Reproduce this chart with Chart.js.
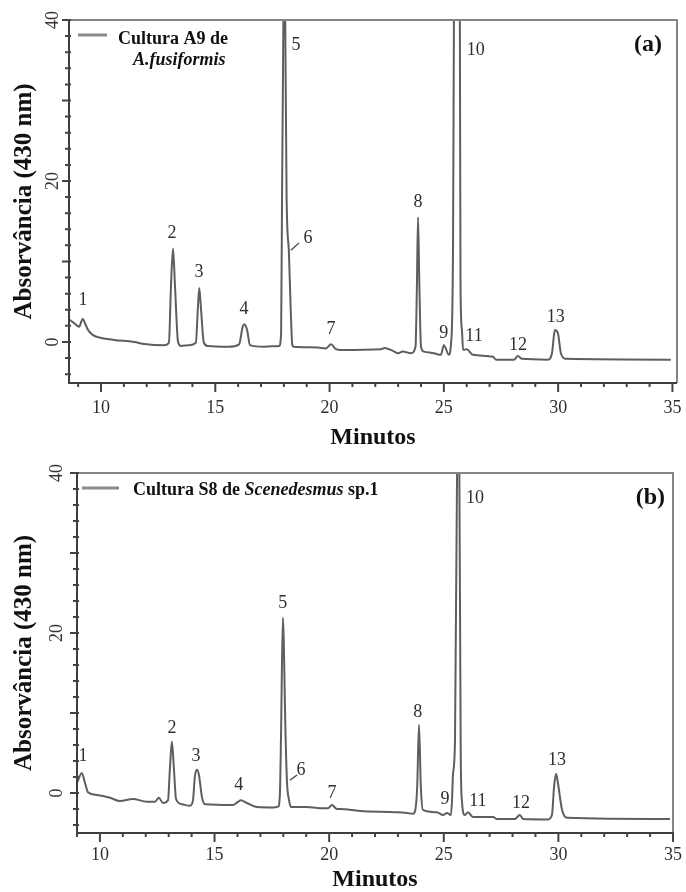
<!DOCTYPE html>
<html>
<head>
<meta charset="utf-8">
<script src="https://cdn.jsdelivr.net/npm/chart.js@4.4.1/dist/chart.umd.min.js"></script>
<style>
  html, body { margin: 0; padding: 0; background: #fff; overflow: hidden; }
  #wrap { position: relative; width: 686px; height: 892px; }
  canvas { position: absolute; left: 0; }
</style>
</head>
<body>
<div id="wrap">
  <canvas id="chartA" width="686" height="456" style="top:0"></canvas>
  <canvas id="chartB" width="686" height="450" style="top:446px"></canvas>
</div>
<script>
// HPLC traces at 430 nm, minutes vs absorbance
const timeA = [8.6, 8.8, 9.04, 9.2, 9.32, 9.43, 9.65, 10.0, 10.57, 11.45, 11.9, 12.76,
  12.97, 13.06, 13.15, 13.24, 13.37, 13.5, 13.85,
  14.15, 14.24, 14.3, 14.37, 14.5, 14.68, 15.56,
  16.04, 16.2, 16.27, 16.39, 16.52, 17.13,
  17.79, 17.88, 17.92, 17.98, 18.02, 18.06, 18.12, 18.22, 18.3, 18.37,
  18.44, 19.49, 19.84, 20.06, 20.28, 20.5, 22.25, 22.4, 22.77, 23.0, 23.2, 23.56,
  23.76, 23.82, 23.87, 23.93, 24.0, 24.13, 24.57, 24.87,
  25.0, 25.22,
  25.31, 25.4, 25.44, 25.57, 25.7, 25.73, 25.79, 25.84, 26.0, 26.27,
  27.15, 27.28, 28.07, 28.24, 28.42, 29.55,
  29.73, 29.82, 29.86, 29.99, 30.12, 30.34, 34.93];
const absA = [2.8, 2.4, 1.9, 2.85, 2.2, 1.5, 0.85, 0.5, 0.25, 0.0, -0.25, -0.4,
  -0.1, 6.8, 11.6, 6.8, 0.0, -0.5, -0.4,
  -0.1, 4.3, 6.7, 4.3, -0.1, -0.5, -0.6,
  -0.3, 1.9, 2.2, 1.5, -0.4, -0.6,
  -0.5, 1.0, 18, 40, 60, 40, 18, 11.2, 4, -0.4,
  -0.6, -0.7, -0.8, -0.3, -0.9, -1.0, -0.9, -0.75, -1.1, -1.4, -1.2, -1.4,
  -0.6, 6.8, 15.5, 6.8, -0.6, -1.2, -1.4, -1.6,
  -0.4, -1.6,
  -0.3, 11.4, 40, 120, 40, 6.8, 1.5, -1.0, -0.9, -1.6,
  -1.85, -2.2, -2.2, -1.75, -2.1, -2.2,
  -1.4, 0.9, 1.5, 1.1, -1.4, -2.1, -2.2];

const timeB = [9.0, 9.21, 9.35, 9.48, 9.87, 10.44, 10.87, 11.44, 12.05, 12.4, 12.57, 12.75,
  12.97, 13.05, 13.14, 13.23, 13.32, 13.58, 13.93,
  14.06, 14.14, 14.23, 14.32, 14.45, 14.58, 15.8,
  16.02, 16.15, 16.41, 16.85, 17.55,
  17.77, 17.85, 17.9, 17.98, 18.1, 18.16, 18.25, 18.33,
  19.03, 19.6, 19.95, 20.12, 20.34, 20.47, 21.34, 22.96, 23.4, 23.66,
  23.76, 23.84, 23.92, 24.0, 24.09, 24.7, 24.97,
  25.14, 25.31,
  25.36, 25.4, 25.49, 25.58, 25.63, 25.68, 25.74, 25.79, 25.92, 26.06, 26.27,
  27.15, 27.32, 28.1, 28.32, 28.46, 29.55,
  29.72, 29.81, 29.9, 29.98, 30.16, 30.38, 34.87];
const absB = [1.25, 2.5, 1.25, 0.1, -0.25, -0.6, -1.0, -0.75, -1.1, -1.1, -0.6, -1.25,
  -0.9, 2.9, 6.4, 2.9, -0.75, -1.4, -1.6,
  -0.9, 2.0, 2.9, 2.25, -0.5, -1.4, -1.5,
  -1.1, -0.9, -1.25, -1.75, -1.8,
  -1.7, -0.25, 7.0, 21.9, 7.0, 1.4, -0.9, -1.75,
  -1.75, -1.9, -1.9, -1.5, -2.0, -2.0, -2.25, -2.4, -2.5, -2.6,
  -2.1, 0.75, 8.5, 0.75, -2.1, -2.4, -2.75,
  -2.5, -2.75,
  -0.9, 2.25, 6.6, 40, 80, 40, 5, -0.9, -2.75, -2.4, -3.0,
  -3.0, -3.25, -3.25, -2.75, -3.25, -3.3,
  -2.75, 0.75, 2.4, 1.25, -2.1, -3.1, -3.25];

// peak numbering and where each number sits (minutes, absorbance)
const peakIds = ['1', '2', '3', '4', '5', '6', '7', '8', '9', '10', '11', '12', '13'];
const labelTimeA = [9.21, 13.11, 14.29, 16.26, 18.53, 19.06, 20.06, 23.87, 25.0, 26.4, 26.32, 28.24, 29.9];
const labelAbsA = [5.2, 13.5, 8.7, 4.0, 36.9, 12.9, 1.6, 17.4, 1.1, 36.3, 0.75, -0.4, 3.1];
const labelTimeB = [9.26, 13.14, 14.19, 16.06, 17.98, 18.77, 20.12, 23.87, 25.05, 26.36, 26.49, 28.37, 29.94];
const labelAbsB = [4.6, 8.1, 4.6, 1.0, 23.75, 2.9, 0.0, 10.1, -0.75, 36.9, -1.0, -1.25, 4.1];

const xTickLabels = [10, 15, 20, 25, 30, 35];
const yTickLabels = [0, 20, 40];

const SERIF = "'Liberation Serif', 'Times New Roman', serif";
const traceColor = '#5e5e5e';

// frame, tick marks, peak numbers, legend and panel tag
function makeDecor(cfg) {
  return {
    id: 'decor',
    afterDatasetsDraw(chart) {
      const ctx = chart.ctx;
      const a = chart.chartArea;
      const xs = chart.scales.x;
      const ys = chart.scales.y;
      ctx.save();

      ctx.lineWidth = 2;
      ctx.strokeStyle = '#858585';
      ctx.beginPath();
      ctx.moveTo(a.left, a.top);
      ctx.lineTo(a.right, a.top);
      ctx.lineTo(a.right, a.bottom);
      ctx.stroke();
      ctx.strokeStyle = '#3e3e3e';
      ctx.beginPath();
      ctx.moveTo(a.left, a.top);
      ctx.lineTo(a.left, a.bottom);
      ctx.lineTo(a.right, a.bottom);
      ctx.stroke();

      ctx.strokeStyle = '#444';
      ctx.beginPath();
      xs.ticks.forEach(t => {
        const px = xs.getPixelForValue(t.value);
        const len = t.value % 5 === 0 ? 9 : 4;
        ctx.moveTo(px, a.bottom - 1);
        ctx.lineTo(px, a.bottom + len);
      });
      ys.ticks.forEach(t => {
        const py = ys.getPixelForValue(t.value);
        const len = t.value % 10 === 0 ? 7 : 4;
        ctx.moveTo(a.left - len, py);
        ctx.lineTo(a.left + 2, py);
      });
      ctx.stroke();

      // leader to the shoulder peak 6
      ctx.strokeStyle = '#555';
      ctx.lineWidth = 1.5;
      ctx.beginPath();
      ctx.moveTo(xs.getPixelForValue(cfg.leader[0]), ys.getPixelForValue(cfg.leader[1]));
      ctx.lineTo(xs.getPixelForValue(cfg.leader[2]), ys.getPixelForValue(cfg.leader[3]));
      ctx.stroke();

      ctx.fillStyle = '#2e2e2e';
      ctx.font = '18px ' + SERIF;
      ctx.textAlign = 'center';
      ctx.textBaseline = 'middle';
      peakIds.forEach((id, i) => {
        ctx.fillText(id, xs.getPixelForValue(cfg.labelTimes[i]), ys.getPixelForValue(cfg.labelAbs[i]));
      });

      // legend
      ctx.strokeStyle = '#8a8a8a';
      ctx.lineWidth = 3;
      ctx.beginPath();
      ctx.moveTo(a.left + cfg.legend.lineFrom, a.top + 15);
      ctx.lineTo(a.left + cfg.legend.lineTo, a.top + 15);
      ctx.stroke();
      ctx.fillStyle = '#111';
      ctx.textAlign = 'left';
      ctx.textBaseline = 'alphabetic';
      cfg.legend.rows.forEach(row => {
        let x = row.x;
        row.parts.forEach(p => {
          ctx.font = (p.italic ? 'italic ' : '') + 'bold 18px ' + SERIF;
          ctx.fillText(p.text, x, a.top + row.dy);
          x += ctx.measureText(p.text).width;
        });
      });

      ctx.font = 'bold 24px ' + SERIF;
      ctx.textAlign = 'right';
      ctx.fillText(cfg.tag, a.right - cfg.tagInset, a.top + cfg.tagDy);

      ctx.restore();
    }
  };
}

function buildChart(id, cfg) {
  const points = cfg.times.map((t, i) => ({ x: t, y: cfg.values[i] }));
  return new Chart(document.getElementById(id), {
    type: 'line',
    data: {
      datasets: [{
        data: points,
        borderColor: traceColor,
        borderWidth: 2,
        pointRadius: 0,
        fill: false,
        cubicInterpolationMode: 'monotone'
      }]
    },
    options: {
      responsive: false,
      animation: false,
      devicePixelRatio: 1,
      events: [],
      layout: { padding: { left: 0, top: cfg.padTop, right: cfg.padRight, bottom: 0 } },
      plugins: { legend: { display: false }, tooltip: { enabled: false } },
      scales: {
        x: {
          type: 'linear',
          min: cfg.xMin,
          max: cfg.xMax,
          grid: { display: false, drawTicks: false },
          border: { display: false },
          ticks: {
            stepSize: 1,
            includeBounds: false,
            autoSkip: false,
            maxRotation: 0,
            padding: cfg.xTickPad,
            color: '#2f2f2f',
            font: { family: SERIF, size: 18 },
            callback: v => (xTickLabels.includes(v) ? String(v) : '')
          },
          title: {
            display: true,
            text: 'Minutos',
            color: '#111',
            font: { family: SERIF, size: 24, weight: 'bold' },
            padding: { top: 0, bottom: cfg.xTitlePad }
          },
          // plot box is fixed by the layout padding, not by label overhang
          afterFit: s => {
            s.height = cfg.xAxisHeight;
            s.paddingLeft = 0;
            s.paddingRight = 0;
          }
        },
        y: {
          type: 'linear',
          min: cfg.yMin,
          max: 40,
          grid: { display: false, drawTicks: false },
          border: { display: false },
          ticks: {
            stepSize: 2,
            includeBounds: false,
            autoSkip: false,
            minRotation: 90,
            maxRotation: 90,
            crossAlign: 'center',
            padding: cfg.yTickPad,
            color: '#3a3232',
            font: { family: SERIF, size: 18 },
            callback: v => (yTickLabels.includes(v) ? String(v) : '')
          },
          title: {
            display: true,
            text: 'Absorvância (430 nm)',
            color: '#111',
            font: { family: SERIF, size: 25, weight: 'bold' },
            padding: { top: 10, bottom: 0 }
          },
          afterFit: s => {
            s.width = cfg.yAxisWidth;
            s.paddingTop = 0;
            s.paddingBottom = 0;
          }
        }
      }
    },
    plugins: [makeDecor(cfg.decor)]
  });
}

buildChart('chartA', {
  times: timeA, values: absA,
  xMin: 8.6, xMax: 35.2, yMin: -5.1,
  padTop: 20, padRight: 9, xAxisHeight: 73, yAxisWidth: 69,
  xTickPad: 14, xTitlePad: 4, yTickPad: 7,
  decor: {
    labelTimes: labelTimeA, labelAbs: labelAbsA,
    leader: [18.31, 11.4, 18.66, 12.3],
    legend: {
      lineFrom: 9, lineTo: 38,
      rows: [
        { x: 118, dy: 24, parts: [{ text: 'Cultura A9 de' }] },
        { x: 133, dy: 45, parts: [{ text: 'A.fusiformis', italic: true }] }
      ]
    },
    tag: '(a)', tagInset: 15, tagDy: 31
  }
});

buildChart('chartB', {
  times: timeB, values: absB,
  xMin: 9, xMax: 35, yMin: -5,
  padTop: 27, padRight: 13, xAxisHeight: 63, yAxisWidth: 77,
  xTickPad: 11, xTitlePad: 2, yTickPad: 11,
  decor: {
    labelTimes: labelTimeB, labelAbs: labelAbsB,
    leader: [18.29, 1.6, 18.6, 2.25],
    legend: {
      lineFrom: 5, lineTo: 42,
      rows: [
        { x: 133, dy: 22, parts: [
          { text: 'Cultura S8 de ' },
          { text: 'Scenedesmus', italic: true },
          { text: ' sp.1' }
        ] }
      ]
    },
    tag: '(b)', tagInset: 8, tagDy: 31
  }
});
</script>
</body>
</html>
